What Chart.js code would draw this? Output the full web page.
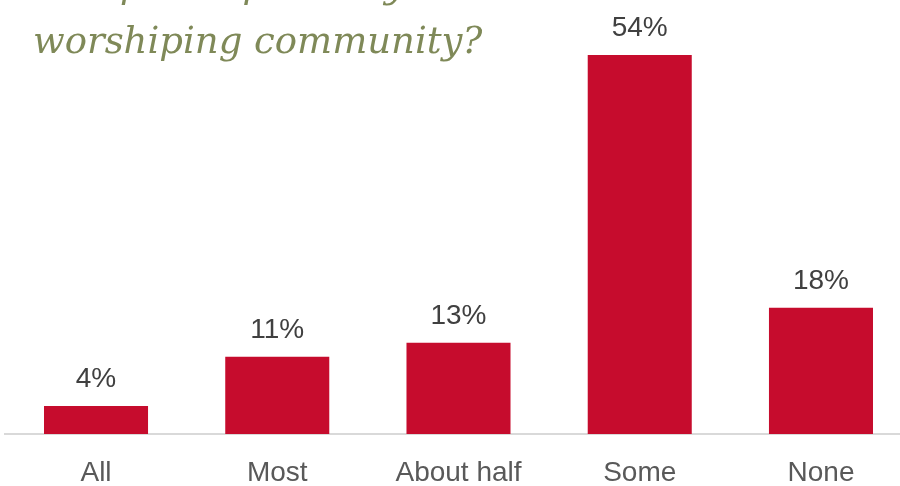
<!DOCTYPE html>
<html>
<head>
<meta charset="utf-8">
<script src="https://cdn.jsdelivr.net/npm/chart.js@4"></script>
<style>
  html, body { margin: 0; padding: 0; overflow: hidden; background: #ffffff; }
  #wrap { position: relative; width: 917px; height: 486px; }
</style>
</head>
<body>
<div id="wrap"><canvas id="chart"></canvas></div>
<script>
// Survey answers and their shares (percent)
const categories = ['All', 'Most', 'About half', 'Some', 'None'];
const shares = [4, 11, 13, 54, 18];
const titleLines = ['How many of your friends', 'also participate in your', 'worshiping community?'];

const BAR_COLOR = '#C60C2D';
const VALUE_COLOR = '#404040';
const TICK_COLOR = '#595959';
const TITLE_COLOR = '#7F8958';
const SANS = '"Liberation Sans", Arial, sans-serif';

// Percent labels sitting above each bar
const valueLabels = {
  id: 'valueLabels',
  afterDatasetsDraw(chart) {
    const ctx = chart.ctx;
    const meta = chart.getDatasetMeta(0);
    ctx.save();
    ctx.font = '28px ' + SANS;
    ctx.fillStyle = VALUE_COLOR;
    ctx.textAlign = 'center';
    ctx.textBaseline = 'alphabetic';
    meta.data.forEach((bar, i) => {
      ctx.fillText(shares[i] + '%', bar.x, bar.y - 19);
    });
    ctx.restore();
  }
};

// Italic question heading, left aligned, last line sitting near the top edge
const questionTitle = {
  id: 'questionTitle',
  afterDraw(chart) {
    const ctx = chart.ctx;
    ctx.save();
    ctx.font = 'italic 37px "DejaVu Serif", Georgia, serif';
    ctx.fillStyle = TITLE_COLOR;
    ctx.textAlign = 'left';
    ctx.textBaseline = 'alphabetic';
    const lineGap = 56;
    const lastBaseline = 53;
    titleLines.forEach((line, i) => {
      const y = lastBaseline - (titleLines.length - 1 - i) * lineGap;
      ctx.fillText(line, 33, y);
    });
    ctx.restore();
  }
};

new Chart(document.getElementById('chart'), {
  type: 'bar',
  data: {
    labels: categories,
    datasets: [{
      data: shares,
      backgroundColor: BAR_COLOR,
      borderWidth: 0,
      barPercentage: 0.574,
      categoryPercentage: 1
    }]
  },
  options: {
    responsive: true,
    maintainAspectRatio: false,
    animation: false,
    layout: { padding: { top: 20, left: 5.4, right: 5.4, bottom: 0 } },
    plugins: {
      legend: { display: false },
      title: { display: false },
      tooltip: { enabled: false }
    },
    scales: {
      y: {
        display: false,
        min: 0,
        max: 59
      },
      x: {
        grid: { display: false, drawTicks: false, tickLength: 0 },
        border: { display: true, color: '#D9D9D9', width: 2 },
        ticks: {
          color: TICK_COLOR,
          font: { family: SANS, size: 28 },
          padding: 22,
          maxRotation: 0,
          autoSkip: false
        },
        afterFit(scale) { scale.height = 52; }
      }
    }
  },
  plugins: [valueLabels, questionTitle]
});
</script>
</body>
</html>
